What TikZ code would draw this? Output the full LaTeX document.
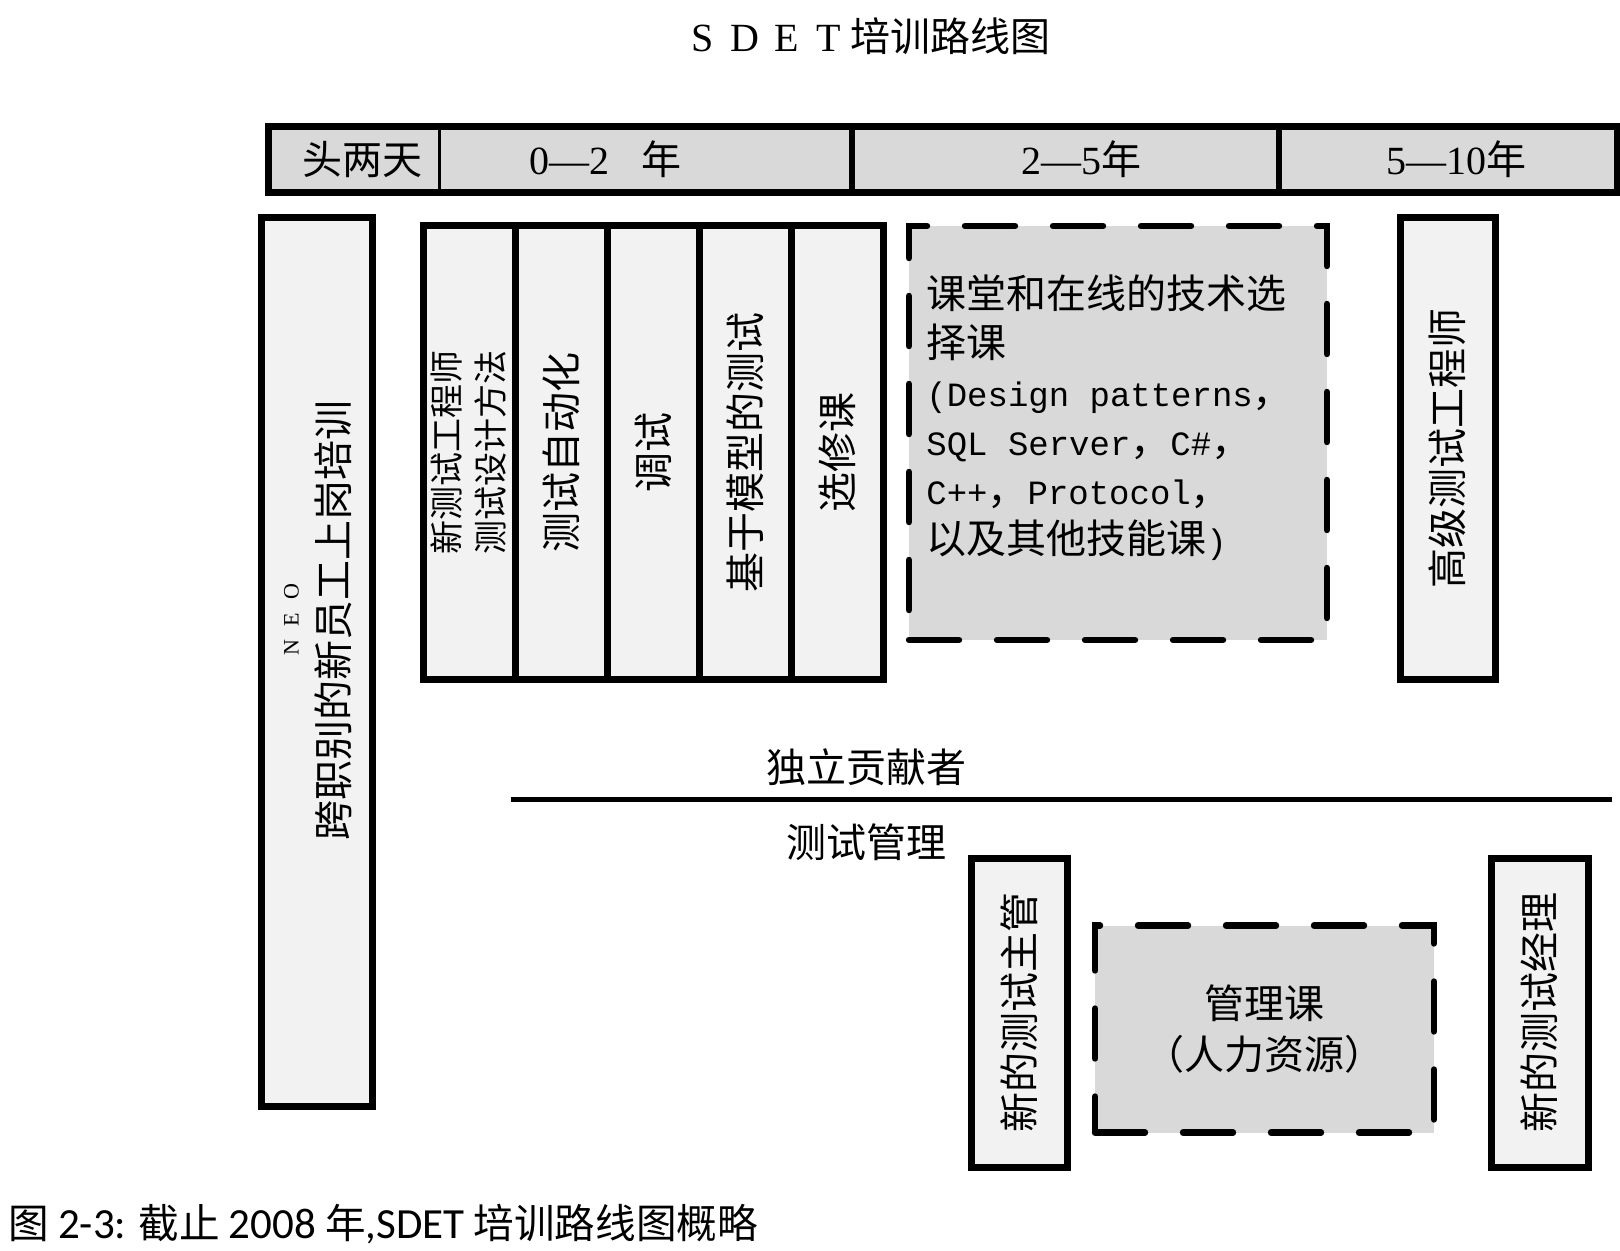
\documentclass[tikz,border=0pt]{standalone}
\usepackage{fontspec}
\setmainfont{Noto Sans CJK SC}
\newfontfamily\seriflat{Liberation Serif}
\newfontfamily\monolat{Liberation Mono}
\newfontfamily\captionlat{Carlito}
\definecolor{boxgray}{HTML}{F2F2F2}
\definecolor{bargray}{HTML}{D9D9D9}
\tikzset{
  cell/.style={fill=bargray,minimum height=32.5pt,inner sep=0pt},
  vbox/.style={draw,line width=3.5pt,fill=boxgray,rotate=90,inner sep=0pt,align=center},
  dashbox/.style={draw,line width=3.2pt,fill=bargray,dash pattern=on 25pt off 19pt,line cap=round,inner sep=0pt,align=center},
  plain/.style={inner sep=0pt}
}

\begin{document}
\begin{tikzpicture}[x=0.5pt,y=-0.5pt,font=\fontsize{20}{24}\selectfont]
  \useasboundingbox (0,0) rectangle (1620,1251);
  \node[plain] (title) at (866,36)
    {{\seriflat\makebox[1.05em]{S}\makebox[1.05em]{D}\makebox[1.05em]{E}\makebox[1.05em]{T}}培训路线图};
  % time bar
  \node[cell,minimum width=85pt] (days) at (354,159.5) {\hspace*{8pt}头两天};
  \node[cell,minimum width=206.5pt] (yr02) at (645.5,159.5) {{\seriflat 0—2}\hspace{0.8em}年\hspace*{40pt}};
  \node[cell,minimum width=213.5pt] (yr25) at (1065.5,159.5) {\hspace*{16pt}{\seriflat 2—5}年};
  \node[cell,minimum width=169pt] (yr510) at (1448,159.5) {\hspace*{8pt}{\seriflat 5—10}年};
  \draw[line width=1.5pt] (days.north east) -- (days.south east);
  \draw[line width=3pt] (yr02.north east) -- (yr02.south east);
  \draw[line width=3pt] (yr25.north east) -- (yr25.south east);
  \draw[line width=3.5pt] (days.north west) rectangle (yr510.south east);
  % new employee orientation
  \node[vbox,minimum width=444pt,minimum height=55.5pt] (neo) at (316.5,662) {};
  \node[plain,rotate=90,align=center,font=\fontsize{20}{25}\selectfont] (neotext) at (318,620)
    {{\fontsize{11}{13}\seriflat\makebox[14pt]{N}\makebox[14pt]{E}\makebox[14pt]{O}}\\跨职别的新员工上岗培训};
  % first courses
  \node[vbox,minimum width=226.5pt,minimum height=46pt,font=\fontsize{17}{22}\selectfont] (design) at (469,452.5)
    {新测试工程师\\测试设计方法};
  \node[vbox,minimum width=226.5pt,minimum height=46pt] (auto) at (561,452.5) {测试自动化};
  \node[vbox,minimum width=226.5pt,minimum height=46pt] (debug) at (653,452.5) {调试};
  \node[vbox,minimum width=226.5pt,minimum height=46pt] (mbt) at (745,452.5) {基于模型的测试};
  \node[vbox,minimum width=226.5pt,minimum height=46pt] (optional) at (837,452.5) {选修课};
  % elective courses
  \node[dashbox,minimum width=209pt,minimum height=207pt] (elective) at (1118,433) {};
  \node[plain,anchor=north west,align=left,font=\fontsize{20}{24.5}\selectfont] (electext) at (926,274)
    {课堂和在线的技术选\\
     择课\\
     {\monolat\fontsize{17}{20}\selectfont (Design patterns}，\\
     {\monolat\fontsize{17}{20}\selectfont SQL Server}，{\monolat\fontsize{17}{20}\selectfont C\#}，\\
     {\monolat\fontsize{17}{20}\selectfont C++}，{\monolat\fontsize{17}{20}\selectfont Protocol}，\\
     以及其他技能课{\monolat\fontsize{17}{20}\selectfont )}};
  \node[vbox,minimum width=230.5pt,minimum height=47.5pt] (senior) at (1447.5,448.5) {高级测试工程师};
  % career split
  \node[plain] (ic) at (866,767) {独立贡献者};
  \coordinate (splitL) at (511,799);
  \coordinate (splitR) at (1612,799);
  \draw[line width=2.5pt] (splitL) -- (splitR);
  \node[plain] (mgmt) at (866,842) {测试管理};
  \node[vbox,minimum width=154.5pt,minimum height=48pt] (lead) at (1019,1012.5) {新的测试主管};
  \node[dashbox,minimum width=169.5pt,minimum height=103.5pt,font=\fontsize{20}{25.5}\selectfont] (hr) at (1264.5,1029)
    {管理课\\（人力资源）};
  \node[vbox,minimum width=154.5pt,minimum height=48.5pt] (manager) at (1539.5,1012.5) {新的测试经理};
  % caption
  \node[plain,anchor=west,font=\fontsize{20.3}{24}\selectfont] (caption) at (8,1224)
    {图 {\captionlat\fontsize{21.5}{24}\selectfont 2-3:} 截止 {\captionlat\fontsize{21.5}{24}\selectfont 2008} 年{\captionlat\fontsize{21.5}{24}\selectfont ,SDET} 培训路线图概略};
\end{tikzpicture}
\end{document}
